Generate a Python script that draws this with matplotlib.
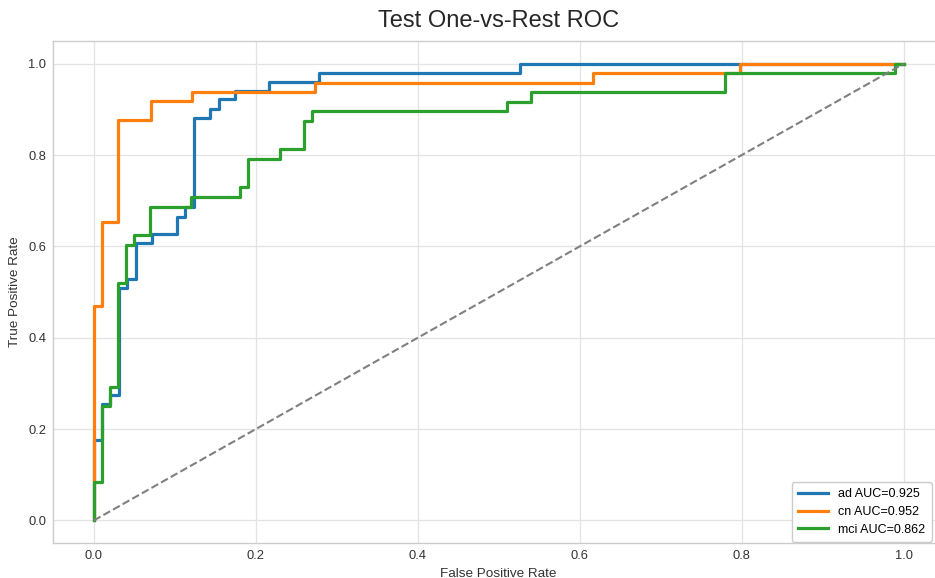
import matplotlib
matplotlib.use("Agg")
import matplotlib.pyplot as plt

# ROC points (one-vs-rest, test split)
classes = ["ad", "cn", "mci"]
auc_scores = [0.925, 0.952, 0.862]
colors = ["#1f77b4", "#ff7f0e", "#2ca02c"]

fpr_ad = [0.0, 0.0, 0.0103, 0.0103, 0.0206, 0.0206, 0.031, 0.031, 0.041, 0.041,
          0.052, 0.052, 0.072, 0.072, 0.103, 0.103, 0.113, 0.113, 0.124, 0.124,
          0.144, 0.144, 0.155, 0.155, 0.175, 0.175, 0.216, 0.216, 0.278, 0.278,
          0.526, 0.526, 1.0]
tpr_ad = [0.0, 0.176, 0.176, 0.255, 0.255, 0.275, 0.275, 0.510, 0.510, 0.529,
          0.529, 0.608, 0.608, 0.627, 0.627, 0.665, 0.665, 0.686, 0.686, 0.882,
          0.882, 0.902, 0.902, 0.922, 0.922, 0.941, 0.941, 0.961, 0.961, 0.980,
          0.980, 1.0, 1.0]

fpr_cn = [0.0, 0.0, 0.0101, 0.0101, 0.0303, 0.0303, 0.0707, 0.0707, 0.1212, 0.1212,
          0.2727, 0.2727, 0.6162, 0.6162, 0.798, 0.798, 1.0]
tpr_cn = [0.0, 0.469, 0.469, 0.653, 0.653, 0.878, 0.878, 0.918, 0.918, 0.939,
          0.939, 0.959, 0.959, 0.980, 0.980, 1.0, 1.0]

fpr_mci = [0.0, 0.0, 0.01, 0.01, 0.02, 0.02, 0.03, 0.03, 0.04, 0.04,
           0.05, 0.05, 0.07, 0.07, 0.12, 0.12, 0.18, 0.18, 0.19, 0.19,
           0.23, 0.23, 0.26, 0.26, 0.27, 0.27, 0.51, 0.51, 0.54, 0.54,
           0.78, 0.78, 0.99, 0.99, 1.0]
tpr_mci = [0.0, 0.0833, 0.0833, 0.25, 0.25, 0.2917, 0.2917, 0.5208, 0.5208, 0.6042,
           0.6042, 0.625, 0.625, 0.6875, 0.6875, 0.7083, 0.7083, 0.7292, 0.7292, 0.7917,
           0.7917, 0.8125, 0.8125, 0.875, 0.875, 0.8958, 0.8958, 0.9167, 0.9167, 0.9375,
           0.9375, 0.9792, 0.9792, 1.0, 1.0]

curves = [(fpr_ad, tpr_ad), (fpr_cn, tpr_cn), (fpr_mci, tpr_mci)]

plt.rcParams["font.family"] = ["Liberation Sans", "DejaVu Sans"]

W, H = 935, 578
fig = plt.figure(figsize=(W / 100, H / 100), dpi=100)
# axes runs a bit past the right edge, like the cropped original
left, right, top, bottom = 53.3, 944.0, 41.0, 543.3
ax = fig.add_axes([left / W, (H - bottom) / H, (right - left) / W, (bottom - top) / H])

for (fpr, tpr), name, auc, c in zip(curves, classes, auc_scores, colors):
    ax.plot(fpr, tpr, color=c, lw=2.3, label=f"{name} AUC={auc:.3f}")

ax.plot([0, 1], [0, 1], linestyle="--", color="#808080", lw=1.5)

ax.set_xlim(-0.05, 1.05)
ax.set_ylim(-0.05, 1.05)
ax.set_xticks([0.0, 0.2, 0.4, 0.6, 0.8, 1.0])
ax.set_yticks([0.0, 0.2, 0.4, 0.6, 0.8, 1.0])

ax.grid(True, color="#e3e3e3", lw=0.9)
ax.set_axisbelow(True)
for s in ax.spines.values():
    s.set_color("#cccccc")
    s.set_linewidth(1.0)
ax.tick_params(length=0, labelsize=9.3, colors="#333333", pad=5)

ax.set_title("Test One-vs-Rest ROC", fontsize=17, color="#262626", pad=10)
ax.set_xlabel("False Positive Rate", fontsize=9.7, color="#333333", labelpad=4)
ax.set_ylabel("True Positive Rate", fontsize=9.7, color="#333333", labelpad=5)

leg = ax.legend(loc="lower right", bbox_to_anchor=(0.986, 0.003), borderaxespad=0,
                fontsize=9, frameon=True, fancybox=True, labelspacing=0.45,
                handlelength=2.4, handletextpad=0.8, borderpad=0.5, framealpha=1.0)
leg.get_frame().set_edgecolor("#cccccc")

fig.savefig("out.png", dpi=100)
